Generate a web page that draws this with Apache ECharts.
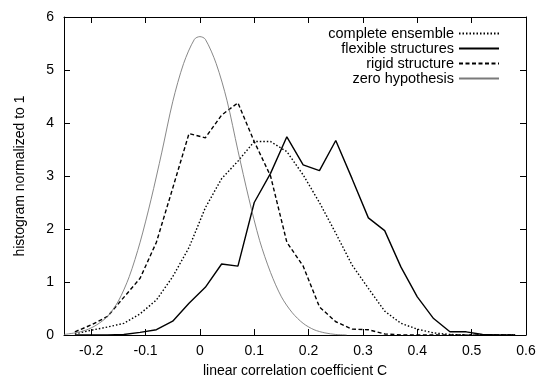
<!DOCTYPE html>
<html>
<head>
<meta charset="utf-8">
<title>Correlation coefficient histograms</title>
<script src="https://cdn.jsdelivr.net/npm/echarts@6/dist/echarts.min.js"></script>
<style>
  html, body { margin: 0; padding: 0; background: #fff; }
  #chart { width: 540px; height: 380px; }
</style>
</head>
<body>
<div id="chart"></div>
<script>
// Bin centres of the histograms (linear correlation coefficient C)
const binC = [-0.23, -0.20, -0.17, -0.14, -0.11, -0.08, -0.05, -0.02, 0.01, 0.04,
              0.07, 0.10, 0.13, 0.16, 0.19, 0.22, 0.25, 0.28, 0.31, 0.34,
              0.37, 0.40, 0.43, 0.46, 0.49, 0.52, 0.55, 0.58];

const completeEnsemble = [0.02, 0.09, 0.15, 0.22, 0.40, 0.66, 1.10, 1.65, 2.40, 2.95,
                          3.28, 3.65, 3.65, 3.46, 3.02, 2.50, 1.92, 1.32, 0.88, 0.45,
                          0.22, 0.11, 0.04, 0.01, 0, 0, 0, 0];

const flexibleStructures = [0, 0, 0, 0.01, 0.05, 0.10, 0.26, 0.60, 0.90, 1.34,
                            1.30, 2.50, 3.05, 3.74, 3.21, 3.10, 3.67, 2.95, 2.21, 1.97,
                            1.28, 0.72, 0.31, 0.06, 0.06, 0.01, 0, 0];

const rigidStructure = [0.06, 0.19, 0.35, 0.71, 1.07, 1.75, 2.77, 3.80, 3.72, 4.15,
                        4.38, 3.65, 3.00, 1.75, 1.30, 0.53, 0.25, 0.11, 0.10, 0.02,
                        0, 0, 0, 0, 0, 0, 0, 0];

// Smooth null-hypothesis distribution, sampled more finely
const zeroC = [-0.25, -0.23, -0.21, -0.19, -0.17, -0.15, -0.13, -0.11, -0.09, -0.07,
               -0.05, -0.03, -0.01, 0, 0.01, 0.03, 0.05, 0.07, 0.09, 0.11,
               0.13, 0.15, 0.17, 0.19, 0.21, 0.23, 0.25, 0.27];
const zeroHypothesis = [0.01, 0.04, 0.09, 0.19, 0.35, 0.64, 1.10, 1.75, 2.55, 3.45,
                        4.40, 5.12, 5.58, 5.63, 5.58, 5.12, 4.42, 3.48, 2.58, 1.78,
                        1.18, 0.72, 0.42, 0.22, 0.10, 0.04, 0.01, 0];

// Axis tick positions and labels
const xTicks = [-0.2, -0.1, 0, 0.1, 0.2, 0.3, 0.4, 0.5, 0.6];
const xTickLabels = ['-0.2', '-0.1', '0', '0.1', '0.2', '0.3', '0.4', '0.5', '0.6'];
const yTicks = [0, 1, 2, 3, 4, 5, 6];

const seriesNames = ['complete ensemble', 'flexible structures', 'rigid structure', 'zero hypothesis'];

const FONT = '"Liberation Sans", Arial, Helvetica, sans-serif';

function pairs(xs, ys) {
  return xs.map((x, i) => [x, ys[i]]);
}

const chart = echarts.init(document.getElementById('chart'), null, { renderer: 'canvas' });

const xBase = {
  type: 'value',
  min: -0.25,
  max: 0.6,
  axisLine: { show: true, onZero: false, lineStyle: { color: '#000', width: 1 } },
  axisTick: { show: true, inside: true, length: 6, customValues: xTicks, lineStyle: { color: '#000' } },
  splitLine: { show: false }
};
const yBase = {
  type: 'value',
  min: yTicks[0],
  max: yTicks[yTicks.length - 1],
  interval: 1,
  axisLine: { show: true, onZero: false, lineStyle: { color: '#000', width: 1 } },
  axisTick: { show: true, inside: true, length: 6, lineStyle: { color: '#000' } },
  splitLine: { show: false }
};

const option = {
  backgroundColor: '#fff',
  animation: false,
  textStyle: { fontFamily: FONT },
  grid: { left: 64, right: 14, top: 17, bottom: 45, containLabel: false, outerBoundsMode: 'none' },
  legend: {
    orient: 'vertical',
    right: 35,
    top: 21,
    align: 'right',
    itemWidth: 40,
    itemHeight: 10,
    itemGap: 0,
    data: seriesNames,
    itemStyle: { opacity: 0 },
    textStyle: { fontSize: 14.5, color: '#000', fontFamily: FONT }
  },
  xAxis: [
    Object.assign({}, xBase, {
      position: 'bottom',
      name: 'linear correlation coefficient C',
      nameLocation: 'middle',
      nameGap: 29,
      nameTextStyle: { fontSize: 14, color: '#000', fontFamily: FONT },
      axisLabel: {
        show: true,
        customValues: xTicks,
        formatter: (v) => xTickLabels[xTicks.findIndex(t => Math.abs(t - v) < 1e-9)] ?? '',
        fontSize: 14, color: '#000', margin: 9, fontFamily: FONT
      }
    }),
    Object.assign({}, xBase, {
      position: 'top',
      axisLabel: { show: false }
    })
  ],
  yAxis: [
    Object.assign({}, yBase, {
      position: 'left',
      name: 'histogram normalized to 1',
      nameLocation: 'middle',
      nameGap: 37,
      nameTextStyle: { fontSize: 14, color: '#000', fontFamily: FONT },
      axisLabel: { show: true, fontSize: 14, color: '#000', margin: 10, fontFamily: FONT }
    }),
    Object.assign({}, yBase, {
      position: 'right',
      axisLabel: { show: false }
    })
  ],
  series: [
    {
      name: seriesNames[0],
      type: 'line',
      data: pairs(binC, completeEnsemble),
      symbol: 'none',
      lineStyle: { color: '#000', width: 1.4, type: [1.5, 2] },
      itemStyle: { color: '#000' }
    },
    {
      name: seriesNames[1],
      type: 'line',
      data: pairs(binC, flexibleStructures),
      symbol: 'none',
      lineStyle: { color: '#000', width: 1.4, type: 'solid' },
      itemStyle: { color: '#000' }
    },
    {
      name: seriesNames[2],
      type: 'line',
      data: pairs(binC, rigidStructure),
      symbol: 'none',
      lineStyle: { color: '#000', width: 1.4, type: [4, 2.5] },
      itemStyle: { color: '#000' }
    },
    {
      name: seriesNames[3],
      type: 'line',
      data: pairs(zeroC, zeroHypothesis),
      symbol: 'none',
      smooth: 0.3,
      lineStyle: { color: '#7a7a7a', width: 0.9, type: 'solid' },
      itemStyle: { color: '#7a7a7a' }
    }
  ]
};

chart.setOption(option);
</script>
</body>
</html>
